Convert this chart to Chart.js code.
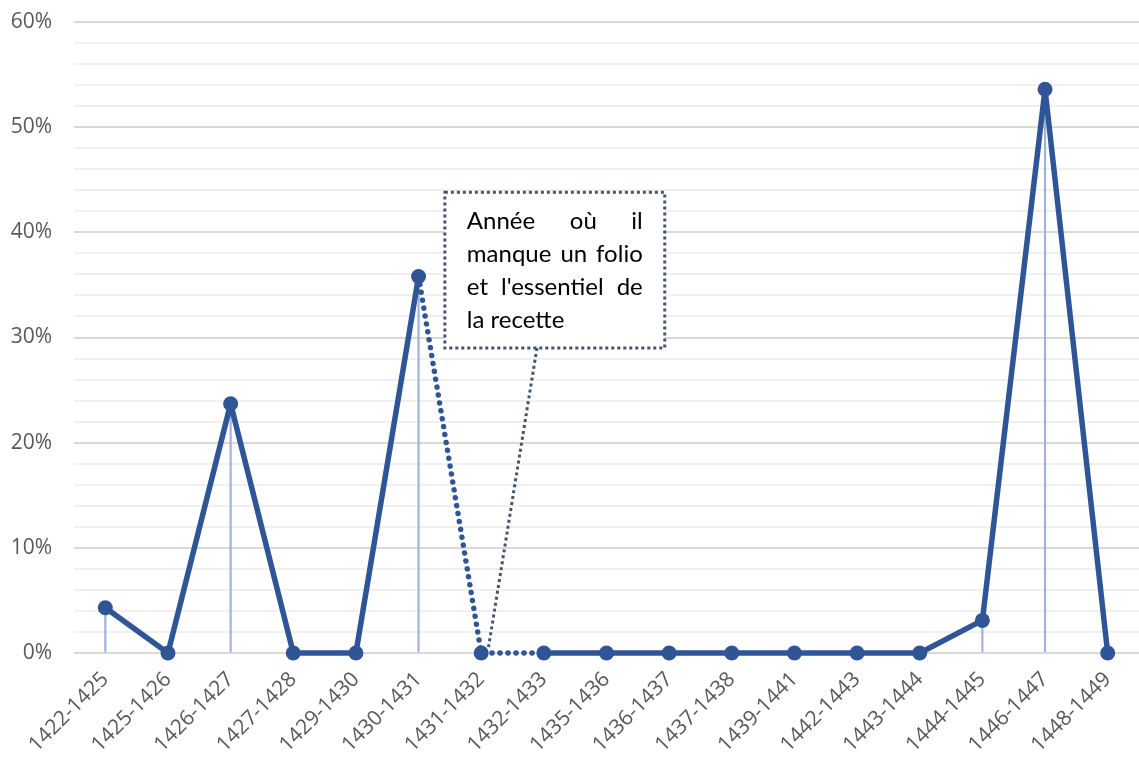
<!DOCTYPE html>
<html>
<head>
<meta charset="utf-8">
<script src="https://cdn.jsdelivr.net/npm/chart.js@4"></script>
<style>
  html, body { margin: 0; padding: 0; background: #ffffff; }
  #wrap { width: 1139px; height: 760px; position: relative; }
</style>
</head>
<body>
<div id="wrap"><canvas id="c" width="1139" height="760"></canvas></div>
<script>
// ---- data ----
const categories = ["1422-1425","1425-1426","1426-1427","1427-1428","1429-1430","1430-1431","1431-1432","1432-1433","1435-1436","1436-1437","1437-1438","1439-1441","1442-1443","1443-1444","1444-1445","1446-1447","1448-1449"];
const shares = [4.3, 0, 23.7, 0, 0, 35.8, 0, 0, 0, 0, 0, 0, 0, 0, 3.1, 53.6, 0];
const dottedFromIndex = [5, 6]; // segments starting at these indices are dotted
const yTickLabels = [0, 10, 20, 30, 40, 50, 60];
const calloutLines = ["Année où il", "manque un folio", "et l'essentiel de", "la recette"];

const calloutPlugin = {
  id: 'callout',
  afterDatasetsDraw(chart, args, opts) {
    const ctx = chart.ctx;
    const xs = chart.scales.x, ys = chart.scales.y;
    const L = xs.getPixelForValue(opts.box.x0), R = xs.getPixelForValue(opts.box.x1);
    const T = ys.getPixelForValue(opts.box.y1), B = ys.getPixelForValue(opts.box.y0);
    ctx.save();
    ctx.fillStyle = '#ffffff';
    ctx.fillRect(L, T, R - L, B - T);
    ctx.strokeStyle = '#44546a';
    ctx.lineWidth = 3;
    ctx.lineCap = 'butt';
    ctx.setLineDash([3, 3]);
    ctx.strokeRect(L, T, R - L, B - T);
    // pointer
    ctx.beginPath();
    ctx.moveTo(xs.getPixelForValue(opts.ptr.x0), ys.getPixelForValue(opts.ptr.y0));
    ctx.lineTo(xs.getPixelForValue(opts.ptr.x1), ys.getPixelForValue(opts.ptr.y1));
    ctx.stroke();
    ctx.setLineDash([]);
    // justified text
    ctx.fillStyle = '#000000';
    ctx.textBaseline = 'alphabetic';
    const padX = 22, left = L + padX, width = (R - L) - 2 * padX;
    const lines = opts.lines;
    let size = 24;
    for (; size > 12; size -= 0.5) {
      ctx.font = size + 'px Lato';
      const widest = Math.max(...lines.map(l => ctx.measureText(l).width));
      if (widest <= width) break;
    }
    ctx.font = size + 'px Lato';
    lines.forEach((line, i) => {
      const y = T + 37 + i * 33;
      const words = line.split(' ');
      if (i === lines.length - 1 || words.length < 2) {
        ctx.textAlign = 'left';
        ctx.fillText(line, left, y);
        return;
      }
      const wsum = words.reduce((s, w) => s + ctx.measureText(w).width, 0);
      const gap = (width - wsum) / (words.length - 1);
      let x = left;
      words.forEach(w => {
        ctx.fillText(w, x, y);
        x += ctx.measureText(w).width + gap;
      });
    });
    ctx.restore();
  }
};

const blue = '#2f5597';

new Chart(document.getElementById('c'), {
  data: {
    labels: categories,
    datasets: [
      {
        type: 'line',
        data: shares,
        borderColor: blue,
        backgroundColor: blue,
        borderWidth: 5.5,
        borderCapStyle: 'round',
        borderJoinStyle: 'round',
        pointRadius: 7.5,
        pointHoverRadius: 7.5,
        pointBackgroundColor: blue,
        pointBorderWidth: 0,
        tension: 0,
        clip: false,
        order: 0,
        segment: {
          borderDash: c => dottedFromIndex.includes(c.p0DataIndex) ? [0.01, 8] : undefined
        }
      },
      {
        type: 'bar',
        data: shares,
        backgroundColor: '#9db2dc',
        barThickness: 1.5,
        borderWidth: 0,
        order: 1
      }
    ]
  },
  options: {
    responsive: false,
    animation: false,
    devicePixelRatio: 1,
    layout: { autoPadding: false, padding: { top: 22, right: 0, left: 0, bottom: 0 } },
    plugins: {
      legend: { display: false },
      tooltip: { enabled: false },
      callout: {
        box: { x0: 5.42, x1: 8.93, y0: 29.0, y1: 43.8 },
        ptr: { x0: 6.89, y0: 29.0, x1: 6.11, y1: 0.3 },
        lines: calloutLines
      }
    },
    scales: {
      x: {
        type: 'category',
        offset: true,
        afterFit: s => { s.paddingRight = 0; s.paddingLeft = 0; s.height = 107; },
        grid: { display: false },
        border: { display: false },
        ticks: {
          color: '#595959',
          font: { family: 'Open Sans', size: 21 },
          minRotation: 45,
          maxRotation: 45,
          autoSkip: false,
          padding: 6
        }
      },
      y: {
        min: 0,
        max: 60,
        afterFit: s => { s.width = 74; s.paddingTop = 0; s.paddingBottom = 0; },
        border: { display: false },
        grid: {
          drawTicks: false,
          color: c => (yTickLabels.includes(c.tick.value) ? '#d9d9d9' : '#f0f0f0'),
          lineWidth: 2
        },
        ticks: {
          stepSize: 2,
          autoSkip: false,
          color: '#595959',
          font: { family: 'Open Sans', size: 21 },
          padding: 22,
          callback: v => (yTickLabels.includes(v) ? v + '%' : '')
        }
      }
    }
  },
  plugins: [calloutPlugin]
});
</script>
</body>
</html>
